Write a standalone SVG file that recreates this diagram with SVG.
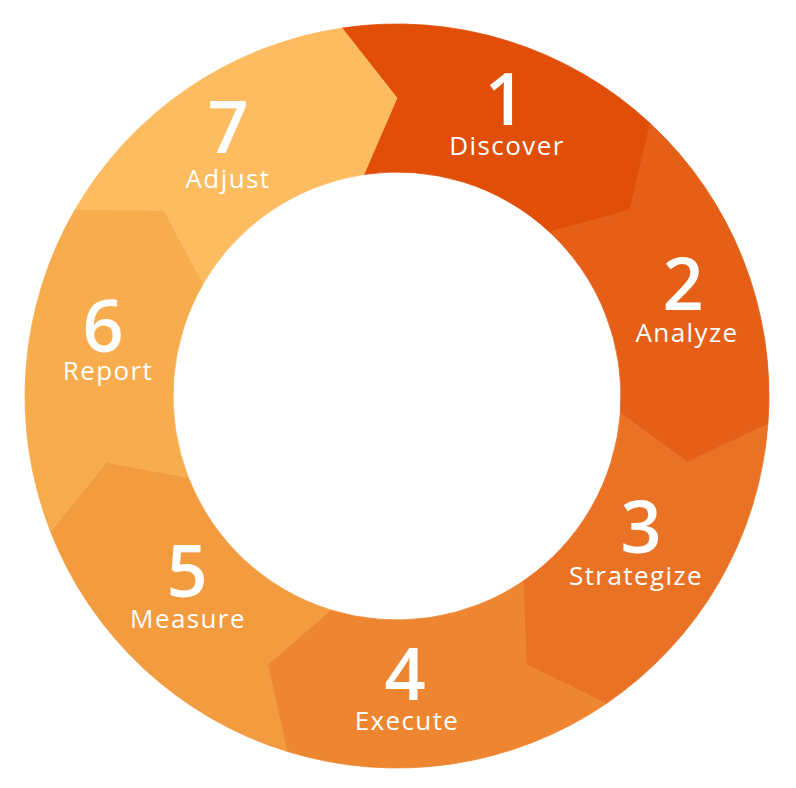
<svg xmlns="http://www.w3.org/2000/svg" width="796" height="788" viewBox="0 0 796 788">
  <style>
    .seg { stroke-width: 0.8; stroke-linejoin: round; }
    .num { font-family: "Open Sans", "Liberation Sans", sans-serif; font-size: 72px; font-weight: 600; fill: #FFFFFF; text-anchor: middle; }
    .lbl { font-family: "Open Sans", "Liberation Sans", sans-serif; font-size: 26px; font-weight: 500; fill: #FFFFFF; text-anchor: middle; letter-spacing: 1.4px; }
  </style>
  <rect width="796" height="788" fill="#FFFFFF"/>
  <g id="step1">
    <path class="seg" fill="#E04E08" stroke="#E04E08" d="M342.01,28.08 A372,372 0 0 1 650.37,123.62 L629.99,210.20 L549.56,231.99 A224,224 0 0 0 363.89,174.46 L397,98 Z"/>
    <text class="num" x="505" y="125">1</text>
    <text class="lbl" x="507" y="155">Discover</text>
  </g>
  <g id="step2">
    <path class="seg" fill="#E55F17" stroke="#E55F17" d="M650.37,123.62 A372,372 0 0 1 767.92,424.26 L687.53,462.31 L620.35,413.02 A224,224 0 0 0 549.56,231.99 L629.99,210.20 Z"/>
    <text class="num" x="683" y="310">2</text>
    <text class="lbl" x="687" y="342">Analyze</text>
  </g>
  <g id="step3">
    <path class="seg" fill="#EA7225" stroke="#EA7225" d="M767.92,424.26 A372,372 0 0 1 606.17,703.63 L526.30,664.49 L522.95,581.24 A224,224 0 0 0 620.35,413.02 L687.53,462.31 Z"/>
    <text class="num" x="641" y="553">3</text>
    <text class="lbl" x="636" y="585">Strategize</text>
  </g>
  <g id="step4">
    <path class="seg" fill="#EE8631" stroke="#EE8631" d="M606.17,703.63 A372,372 0 0 1 286.91,751.34 L267.70,664.49 L330.71,609.97 A224,224 0 0 0 522.95,581.24 L526.30,664.49 Z"/>
    <text class="num" x="405" y="700">4</text>
    <text class="lbl" x="407" y="730">Execute</text>
  </g>
  <g id="step5">
    <path class="seg" fill="#F29B3F" stroke="#F29B3F" d="M286.91,751.34 A372,372 0 0 1 50.54,531.48 L106.47,462.31 L188.38,477.58 A224,224 0 0 0 330.71,609.97 L267.70,664.49 Z"/>
    <text class="num" x="187" y="597">5</text>
    <text class="lbl" x="188" y="628">Measure</text>
  </g>
  <g id="step6">
    <path class="seg" fill="#F7AC4E" stroke="#F7AC4E" d="M50.54,531.48 A372,372 0 0 1 75.07,209.60 L164.01,210.20 L203.15,283.76 A224,224 0 0 0 188.38,477.58 L106.47,462.31 Z"/>
    <text class="num" x="103" y="352">6</text>
    <text class="lbl" x="108" y="380">Report</text>
  </g>
  <g id="step7">
    <path class="seg" fill="#FDBC5F" stroke="#FDBC5F" d="M75.07,209.60 A372,372 0 0 1 342.01,28.08 L397,98 L363.89,174.46 A224,224 0 0 0 203.15,283.76 L164.01,210.20 Z"/>
    <text class="num" x="228" y="153">7</text>
    <text class="lbl" x="228" y="188">Adjust</text>
  </g>
</svg>
